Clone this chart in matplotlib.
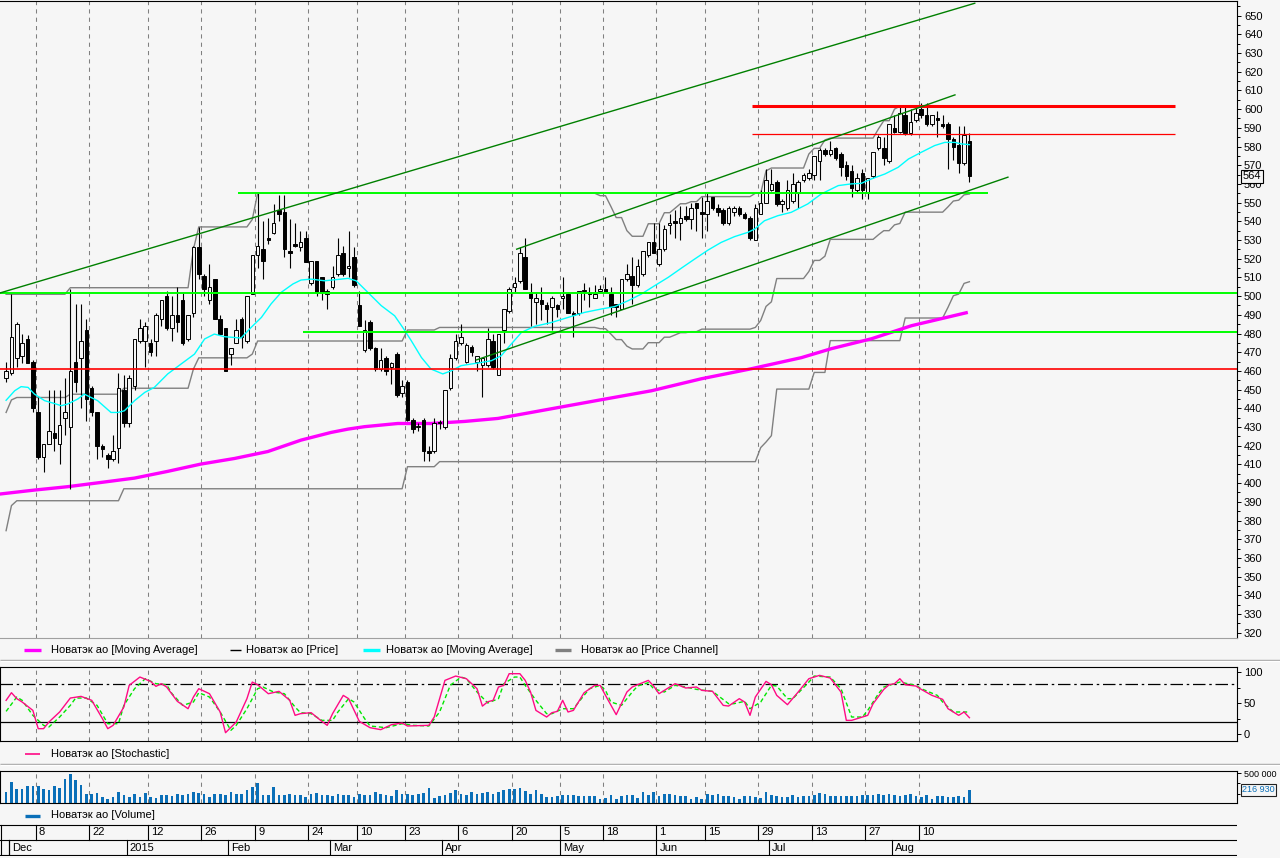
import numpy as np
import matplotlib
matplotlib.use("Agg")
import matplotlib.pyplot as plt
from matplotlib.lines import Line2D

# Novatek daily candles, 28 Nov 2014 .. 21 Aug 2015 (index = trading day)
opens = [456, 459, 467, 468, 477, 465, 438, 414, 421, 427,
         421, 435, 430, 465, 467, 482, 451, 438, 420, 415,
         413, 419, 450, 432, 452, 476, 476, 475, 476, 488,
         500, 483, 490, 498, 477, 491, 526, 511, 498, 509,
         488, 483, 469, 475, 488, 476, 501, 522, 525, 531,
         534, 546, 545, 524, 528, 526, 531, 507, 519, 510,
         501, 505, 512, 523, 515, 521, 495, 471, 486, 472,
         461, 467, 462, 469, 448, 454, 434, 430, 434, 417,
         417, 432, 430, 451, 467, 475, 465, 473, 465, 463,
         463, 476, 458, 482, 492, 505, 508, 521, 502, 497,
         498, 495, 494, 495, 499, 501, 491, 491, 503, 502,
         499, 503, 504, 501, 496, 493, 509, 511, 506, 512,
         522, 529, 517, 525, 538, 540, 539, 543, 541, 550,
         545, 544, 553, 547, 546, 539, 545, 547, 544, 542,
         530, 544, 550, 557, 561, 549, 547, 551, 555, 562,
         563, 565, 572, 578, 576, 579, 576, 570, 567, 557,
         566, 555, 564, 579, 579, 572, 590, 588, 597, 587,
         594, 600, 597, 592, 595, 592, 592, 584, 581, 571,
         583]
highs = [465, 501, 486, 480, 479, 466, 446, 421, 450, 450,
         450, 456, 504, 496, 496, 488, 452, 438, 421, 416,
         426, 459, 458, 458, 477, 488, 486, 477, 491, 498,
         503, 500, 505, 502, 490, 527, 537, 512, 517, 509,
         490, 483, 472, 488, 489, 500, 522, 555, 540, 542,
         549, 554, 554, 541, 539, 535, 535, 519, 519, 510,
         504, 516, 531, 527, 535, 526, 503, 487, 487, 473,
         472, 468, 465, 470, 455, 455, 435, 432, 435, 420,
         435, 434, 450, 469, 480, 485, 475, 474, 468, 467,
         483, 480, 480, 493, 505, 510, 526, 531, 507, 502,
         505, 497, 500, 496, 510, 502, 492, 503, 507, 505,
         506, 506, 510, 505, 496, 509, 517, 521, 520, 524,
         529, 539, 539, 538, 544, 546, 548, 548, 550, 550,
         553, 555, 553, 549, 547, 548, 548, 548, 545, 543,
         549, 557, 568, 568, 562, 552, 562, 566, 562, 566,
         568, 575, 579, 579, 583, 580, 577, 572, 570, 566,
         568, 563, 577, 586, 585, 592, 597, 602, 602, 600,
         602, 603, 603, 597, 599, 597, 593, 585, 591, 591,
         587]
lows = [454, 458, 462, 464, 464, 438, 413, 406, 421, 417,
        410, 426, 397, 449, 440, 433, 436, 413, 414, 408,
        412, 411, 430, 430, 450, 475, 462, 468, 468, 484,
        482, 476, 481, 474, 476, 489, 509, 500, 496, 488,
        479, 460, 463, 475, 472, 475, 501, 515, 509, 528,
        533, 540, 521, 515, 526, 524, 518, 506, 500, 498,
        493, 504, 511, 511, 510, 505, 484, 470, 471, 460,
        460, 458, 453, 446, 446, 433, 427, 428, 412, 412,
        416, 429, 429, 450, 466, 474, 464, 468, 460, 446,
        462, 461, 458, 475, 491, 502, 507, 504, 484, 485,
        487, 485, 482, 489, 493, 491, 478, 490, 498, 494,
        499, 502, 502, 490, 489, 493, 508, 496, 505, 511,
        521, 523, 516, 524, 533, 531, 530, 540, 536, 535,
        531, 535, 546, 543, 538, 538, 543, 543, 541, 530,
        530, 544, 550, 556, 548, 545, 546, 550, 547, 561,
        562, 562, 562, 575, 575, 573, 564, 562, 553, 555,
        552, 552, 563, 578, 570, 571, 587, 587, 586, 586,
        593, 595, 591, 591, 585, 590, 568, 573, 566, 570,
        561]
closes = [460, 478, 485, 475, 464, 440, 414, 421, 428, 424,
          431, 438, 460, 454, 476, 445, 438, 420, 418, 413,
          417, 451, 432, 456, 477, 483, 484, 470, 490, 498,
          483, 490, 486, 475, 490, 526, 512, 504, 505, 488,
          480, 460, 472, 482, 478, 500, 522, 527, 519, 530,
          539, 544, 525, 523, 527, 529, 518, 519, 502, 502,
          503, 510, 522, 512, 516, 506, 484, 482, 472, 461,
          466, 460, 464, 447, 452, 434, 429, 430, 417, 416,
          432, 432, 450, 467, 476, 478, 474, 470, 468, 467,
          477, 462, 480, 493, 504, 507, 523, 504, 499, 499,
          496, 493, 499, 493, 500, 491, 490, 503, 503, 501,
          501, 504, 502, 494, 494, 509, 512, 506, 516, 524,
          529, 523, 525, 536, 539, 539, 542, 541, 547, 547,
          544, 551, 547, 545, 539, 547, 547, 544, 542, 531,
          547, 550, 562, 560, 549, 551, 557, 560, 561, 565,
          566, 575, 578, 576, 578, 574, 569, 564, 558, 563,
          557, 563, 577, 585, 574, 592, 588, 598, 587, 593,
          598, 597, 592, 597, 594, 591, 584, 580, 571, 586,
          564]
# volume, thousands of shares
volumes = [183, 353, 229, 229, 285, 285, 285, 240, 212, 285, 251, 410, 495, 381, 297, 155, 155, 172, 99, 65,
           99, 178, 127, 99, 144, 99, 166, 99, 88, 127, 127, 116, 144, 133, 144, 178, 166, 155, 99, 155,
           155, 138, 178, 144, 155, 212, 268, 342, 127, 127, 268, 127, 127, 155, 127, 127, 99, 155, 166, 127,
           127, 110, 144, 127, 127, 99, 144, 127, 127, 178, 144, 127, 110, 212, 144, 144, 127, 155, 166, 257,
           81, 122, 127, 166, 212, 144, 133, 183, 155, 166, 183, 155, 183, 212, 240, 240, 251, 200, 144, 212,
           144, 99, 99, 110, 127, 138, 127, 116, 116, 116, 110, 71, 88, 127, 65, 110, 127, 127, 88, 183,
           127, 183, 116, 144, 144, 127, 116, 110, 71, 99, 71, 144, 127, 144, 110, 110, 99, 71, 110, 110,
           99, 88, 183, 127, 122, 99, 99, 127, 99, 110, 122, 127, 166, 144, 122, 116, 110, 110, 110, 110,
           127, 127, 127, 155, 127, 144, 127, 110, 127, 144, 110, 99, 127, 71, 110, 110, 99, 99, 110, 99,
           217]

# long moving average (magenta)
ma_long_idx = [-1.1, 5.3, 11.5, 17.8, 24.0, 30.2, 36.4, 42.7, 48.9, 55.1, 60.7, 63.9, 67.0, 73.2,
               79.4, 85.7, 91.9, 98.1, 111.2, 120.6, 129.9, 139.3, 148.6, 154.2, 161.7, 169.2, 179.4]
ma_long_val = [394.2, 396.3, 398.1, 400.4, 402.7, 406.3, 410.2, 413.2, 416.9, 423.0, 427.1, 428.9, 430.2, 431.9,
               431.9, 433.0, 434.6, 437.8, 444.6, 449.4, 455.8, 461.2, 467.1, 471.9, 477.2, 484.2, 491.1]

# short moving average (cyan)
ma_short_idx = [0, 1.6, 2.8, 4.1, 5.3, 7.2, 9.0, 10.3, 11.5, 13.4,
                14.6, 17.1, 19.6, 20.9, 22.1, 24.0, 25.9, 27.7, 30.2, 32.7,
                35.2, 37.1, 38.9, 40.8, 43.9, 45.8, 47.7, 49.5, 51.4, 53.6,
                55.1, 57.0, 59.5, 62.6, 63.9, 65.4, 67.6, 70.1, 72.6, 74.1,
                75.7, 77.6, 79.4, 81.6, 83.2, 85.0, 86.9, 88.8, 90.7, 92.5,
                94.4, 96.3, 98.7, 101.9, 105.0, 108.1, 111.2, 113.7, 116.2, 118.7,
                121.2, 123.7, 126.2, 128.7, 131.2, 133.6, 136.1, 138.6, 139.9, 141.7,
                144.2, 146.7, 149.8, 152.3, 155.5, 157.9, 159.8, 161.7, 164.2, 166.7,
                168.6, 171.0, 173.5, 175.4, 177.3, 178.5, 180.0]
ma_short_val = [444.3, 449.4, 451.6, 451.2, 447.6, 444.1, 442.6, 441.4, 442.3, 445.0,
                447.6, 444.1, 437.8, 437.8, 438.7, 444.1, 448.5, 451.2, 458.4, 463.7,
                469.0, 477.1, 479.7, 478.3, 477.6, 483.3, 488.6, 495.8, 502.0, 506.5,
                508.6, 509.1, 508.2, 509.1, 509.5, 508.2, 502.0, 494.9, 489.5, 483.3,
                476.2, 467.2, 461.0, 458.4, 460.1, 462.8, 463.7, 464.5, 465.5, 468.1,
                474.4, 480.6, 483.8, 485.9, 488.6, 491.3, 493.1, 494.4, 497.5, 501.1,
                505.6, 510.0, 515.0, 519.9, 524.7, 528.7, 531.8, 534.1, 535.9, 540.3,
                543.0, 544.8, 549.3, 554.6, 559.1, 560.0, 560.3, 562.7, 565.3, 568.9,
                573.3, 576.9, 580.5, 582.2, 582.2, 581.4, 581.0]

# price channel: upper / lower levels, each starting at a candle index
chan_upper_start = [0, 12, 35, 36, 46, 47, 111, 113, 114, 116, 117, 120, 123, 125,
                    126, 128, 130, 140, 142, 143, 150, 151, 153, 154, 163, 164, 166, 167]
chan_upper_level = [501, 504.5, 525, 537, 541, 555, 553.7, 548, 542, 535, 532, 538.7, 544.6, 547,
                    549.4, 550.5, 553.2, 555, 567, 568.5, 576, 579, 583.5, 584.5, 589.4, 593.8, 600, 601.5]
chan_lower_start = [0, 1, 2, 22, 75, 81, 141, 142, 143, 144, 151, 154, 168, 176, 177, 178, 179, 180]
chan_lower_level = [374.6, 388, 390.6, 397, 408.8, 411.5, 419, 422, 425.4, 450.3, 459.2, 476.2,
                    488.3, 494, 500.2, 501.1, 506.8, 507.7]

# stochastic %K (pink) and %D (green dashed)
stoch_k_idx = [0, 1, 2, 3, 5, 6, 7, 8, 10, 12, 14, 16, 18, 19, 20, 22, 23, 25, 27, 28,
               29, 30, 32, 34, 35, 36, 38, 40, 41, 43, 45, 46, 47, 49, 51, 53, 54, 55, 57, 59,
               60, 61, 63, 64, 66, 68, 70, 72, 74, 75, 79, 80, 82, 84, 86, 88, 89, 90, 91, 92,
               93, 94, 96, 97, 98, 99, 101, 102, 103, 104, 105, 106, 108, 110, 111, 112, 114, 116, 117, 118,
               120, 121, 122, 123, 125, 127, 129, 130, 132, 134, 135, 137, 138, 139, 140, 142, 143, 144, 146, 148,
               150, 152, 154, 156, 157, 158, 161, 162, 164, 165, 166, 167, 168, 170, 171, 173, 175, 176, 177, 178,
               179, 180]
stoch_k_val = [54.3, 66.6, 57.0, 51.6, 38.1, 8.6, 8.6, 19.3, 35.5, 58.0, 60.7, 54.3, 24.7, 8.6, 14.0, 43.5, 78.5, 91.9, 84.9, 76.9,
               81.2, 75.8, 52.7, 40.8, 59.7, 73.1, 65.0, 35.5, 2.1, 19.3, 57.0, 83.8, 79.5, 65.0, 68.8, 54.3, 30.1, 32.8, 34.4, 20.4,
               14.0, 32.8, 62.3, 57.0, 20.4, 10.2, 7.0, 15.0, 17.7, 12.9, 14.0, 27.4, 86.5, 93.5, 89.2, 73.1, 45.0, 52.0, 54.3, 75.8,
               78.5, 97.3, 97.3, 86.5, 67.7, 38.1, 27.4, 34.4, 36.5, 54.3, 35.5, 38.1, 66.6, 78.5, 78.5, 62.3, 31.2, 67.7, 75.8, 79.5,
               86.5, 77.4, 65.0, 70.4, 81.2, 74.2, 75.8, 70.4, 68.8, 46.2, 45.1, 57.0, 51.6, 30.1, 59.7, 84.9, 79.5, 62.3, 47.3, 67.7,
               89.2, 94.6, 90.3, 67.7, 22.0, 22.0, 30.1, 48.9, 72.0, 79.5, 81.2, 89.2, 79.5, 77.4, 72.0, 62.3, 55.9, 40.8, 35.5, 30.1,
               35.5, 26.3]
stoch_d_idx = [0, 2, 3, 5, 7, 8, 10, 12, 13, 15, 17, 19, 21, 22, 24, 26, 28, 30, 31, 33,
               35, 36, 38, 40, 42, 43, 45, 47, 48, 50, 52, 54, 55, 57, 59, 61, 62, 64, 65, 67,
               68, 71, 74, 76, 79, 81, 83, 85, 86, 88, 90, 92, 93, 95, 96, 97, 99, 101, 102, 104,
               106, 107, 109, 111, 112, 113, 115, 117, 118, 120, 121, 123, 125, 127, 129, 132, 135, 136, 138, 139,
               141, 143, 144, 146, 147, 150, 151, 154, 156, 158, 160, 161, 163, 164, 167, 170, 171, 174, 175, 177,
               178, 180]
stoch_d_val = [36.5, 59.7, 54.3, 30.1, 14.0, 11.3, 27.4, 46.2, 58.0, 58.0, 46.2, 16.6, 16.6, 46.2, 73.1, 89.2, 81.2, 79.5, 65.0, 46.2,
               51.6, 66.6, 59.7, 35.5, 5.9, 14.0, 40.8, 73.1, 75.8, 67.7, 65.0, 43.5, 34.4, 32.8, 22.0, 22.0, 35.5, 57.0, 51.6, 24.7,
               12.9, 10.2, 16.6, 14.0, 12.9, 35.5, 78.5, 91.9, 89.2, 67.7, 50.0, 57.0, 81.2, 91.9, 91.9, 78.5, 54.3, 32.8, 32.8, 40.8,
               40.8, 51.6, 73.1, 78.5, 70.4, 51.6, 46.2, 67.7, 77.4, 82.8, 73.1, 67.7, 78.5, 75.8, 72.0, 68.8, 48.9, 48.9, 52.7, 40.8,
               51.6, 78.5, 77.4, 57.0, 57.0, 83.8, 93.5, 91.9, 73.1, 27.4, 27.4, 38.1, 65.0, 75.8, 83.8, 78.5, 73.1, 62.3, 51.6, 35.5,
               35.5, 35.5]

# hand-drawn levels: price, first and last candle index
level_price = [501.5, 555.2, 481.0, 461.0, 601.5, 586.7]
level_from = [-1.14, 43.3, 55.5, -1.14, 139.4, 139.4]
level_to = [230.0, 183.5, 230.0, 230.0, 218.4, 218.4]
# trend lines (dark green)
trend_i0 = [-1.14, 95.4, 87.9]
trend_p0 = [501.7, 525.1, 465.9]
trend_i1 = [181.0, 177.3, 187.2]
trend_p1 = [656.6, 607.6, 563.6]

# date scale
day_labels = ['8', '22', '12', '26', '9', '24', '10', '23', '6', '20', '5', '18',
              '1', '15', '29', '13', '27', '10']
day_idx = [6, 16, 27, 37, 47, 57, 66, 75, 85, 95, 104, 112, 122, 131, 141, 151, 161, 171]
month_labels = ['Dec', '2015', 'Feb', 'Mar', 'Apr', 'May', 'Jun', 'Jul', 'Aug']
month_idx = [1, 23, 42, 61, 82, 104, 122, 143, 166]

plt.rcParams['font.family'] = ['Liberation Sans', 'DejaVu Sans']
plt.rcParams['font.size'] = 8

BG = '#f6f6f6'
VOL_BLUE = '#0a6fb8'
X_LEFT, X_RIGHT = -1.14, 230.0

opens = np.array(opens, float)
highs = np.array(highs, float)
lows = np.array(lows, float)
closes = np.array(closes, float)
n = len(closes)
idx = np.arange(n)

upper = np.repeat(chan_upper_level, np.diff(chan_upper_start + [n]))
lower = np.repeat(chan_lower_level, np.diff(chan_lower_start + [n]))
middle = (upper + lower) / 2

fig = plt.figure(figsize=(12.8, 8.58), dpi=100, facecolor=BG)


def px_box(left, top, right, bottom):
    return [left / 1280, 1 - bottom / 858, (right - left) / 1280, (bottom - top) / 858]


ax = fig.add_axes(px_box(0, 1, 1237, 638))
ax_st = fig.add_axes(px_box(0, 667, 1237, 741))
ax_vol = fig.add_axes(px_box(0, 771, 1237, 803))
ax_dt = fig.add_axes(px_box(0, 824, 1237, 856))

grid_x = np.array(day_idx) - 0.5
for a in (ax, ax_st, ax_vol):
    a.set_facecolor(BG)
    a.set_xlim(X_LEFT, X_RIGHT)
    a.set_xticks([])
    a.yaxis.tick_right()
    for gx in grid_x:
        a.axvline(gx, color='#808080', lw=0.75, ls=(0, (4, 4)), zorder=0.5)
    a.tick_params(axis='y', which='major', length=3, width=0.7, pad=2, labelsize=8)
    a.tick_params(axis='y', which='minor', length=1.8, width=0.7)

# --- price panel ---
ax.set_ylim(317.2, 657.8)
ax.set_yticks(np.arange(320, 651, 10))
ax.set_yticks(np.arange(325, 656, 10), minor=True)
ax.spines['left'].set_visible(False)
ax.spines['bottom'].set_color('#a0a0a0')

ax.plot(idx, upper, color='#808080', lw=1, zorder=2)
ax.plot(idx, lower, color='#808080', lw=1, zorder=2)
ax.plot(idx, middle, color='#808080', lw=1, zorder=2)

ax.plot(ma_long_idx, ma_long_val, color='#ff00ff', lw=2.4, zorder=2.5)

# candles: hollow when the close is above the open, black otherwise
up = closes >= opens
body_lo = np.minimum(opens, closes)
body_h = np.maximum(np.abs(closes - opens), 0.5)
ax.vlines(idx, lows, highs, color='black', lw=0.8, zorder=3)
ax.bar(idx, body_h, bottom=body_lo, width=0.66, color=np.where(up, BG, 'black'),
       edgecolor='black', linewidth=0.7, zorder=3.5)

ax.plot(ma_short_idx, ma_short_val, color='#00ffff', lw=1, zorder=4)

level_colors = ['#00ff00', '#00ff00', '#00ff00', '#ff0000', '#ff0000', '#ff0000']
level_widths = [1.4, 1.4, 1.4, 1.2, 2.2, 0.9]
for p, a0, a1, c, w in zip(level_price, level_from, level_to, level_colors, level_widths):
    ax.plot([a0, a1], [p, p], color=c, lw=w, zorder=5, solid_capstyle='butt')
for a0, p0, a1, p1 in zip(trend_i0, trend_p0, trend_i1, trend_p1):
    ax.plot([a0, a1], [p0, p1], color='#008000', lw=1, zorder=5)

ax.text(1.0 + 6 / 1237, closes[-1], '%d' % closes[-1], transform=ax.get_yaxis_transform(),
        ha='left', va='center', fontsize=8,
        bbox=dict(boxstyle='square,pad=0.15', fc=BG, ec='black', lw=0.8))

# --- stochastic panel ---
ax_st.set_ylim(-11.3, 108.1)
ax_st.set_yticks([0, 50, 100])
ax_st.set_yticks([25, 75], minor=True)
ax_st.axhline(80, color='black', lw=0.9, ls=(0, (10, 3, 2, 3)))
ax_st.axhline(20, color='black', lw=0.9)
ax_st.plot(stoch_d_idx, stoch_d_val, color='#00e600', lw=1, ls=(0, (3, 2)))
ax_st.plot(stoch_k_idx, stoch_k_val, color='#ff0a84', lw=1)

# --- volume panel ---
vol = np.array(volumes) * 1000
ax_vol.set_ylim(-5000, 539000)
ax_vol.bar(idx, vol, width=0.5, color=VOL_BLUE)
ax_vol.set_yticks([500000])
ax_vol.set_yticklabels(['500 000'], fontsize=6.5)
ax_vol.set_yticks([340000, 140000], minor=True)
ax_vol.text(1.0 + 5 / 1237, vol[-1], '216 930', transform=ax_vol.get_yaxis_transform(),
            ha='left', va='center', fontsize=6.5, color=VOL_BLUE,
            bbox=dict(boxstyle='square,pad=0.12', fc=BG, ec='#202020', lw=0.8))

# --- date scale ---
ax_dt.set_xlim(X_LEFT, X_RIGHT)
ax_dt.set_ylim(0, 1)
ax_dt.axis('off')
for yy in (0.97, 0.5, 0.03):
    ax_dt.plot([X_LEFT, X_RIGHT], [yy, yy], color='black', lw=0.8)
ax_dt.plot([X_LEFT + 0.1, X_LEFT + 0.1], [0.03, 0.97], color='black', lw=0.8)
for lab, d in zip(day_labels, day_idx):
    ax_dt.plot([d - 0.5, d - 0.5], [0.5, 0.97], color='black', lw=0.8)
    ax_dt.text(d - 0.5 + 0.6, 0.735, lab, va='center', ha='left', fontsize=8)
ax_dt.plot([0.5, 0.5], [0.03, 0.5], color='black', lw=0.8)
for lab, m in zip(month_labels, month_idx):
    ax_dt.plot([m - 0.5, m - 0.5], [0.03, 0.5], color='black', lw=0.8)
    ax_dt.text(m - 0.5 + 0.6, 0.265, lab, va='center', ha='left', fontsize=8)


# --- legends and separators ---
def fig_line(x0, x1, y, color, lw):
    fig.add_artist(Line2D([x0 / 1280, x1 / 1280], [1 - y / 858, 1 - y / 858],
                          color=color, lw=lw, solid_capstyle='butt'))


def fig_label(x, y, s):
    fig.text(x / 1280, 1 - y / 858, s, ha='left', va='center', fontsize=8)


fig_line(0, 1280, 659.5, '#a0a0a0', 1)
fig_line(0, 1280, 660.5, 'white', 1)
fig_line(0, 1280, 763.5, '#a0a0a0', 1)
fig_line(0, 1280, 764.5, 'white', 1)

fig_line(24, 41, 650, '#ff00ff', 2.4)
fig_label(51, 650, 'Новатэк ао [Moving Average]')
fig_line(230, 241, 650, 'black', 1)
fig_label(246, 650, 'Новатэк ао [Price]')
fig_line(363, 380, 650, '#00ffff', 2.4)
fig_label(386, 650, 'Новатэк ао [Moving Average]')
fig_line(555, 571, 650, '#808080', 2.4)
fig_label(581, 650, 'Новатэк ао [Price Channel]')

fig_line(25, 40, 754, '#ff0a84', 1.2)
fig_label(51, 754, 'Новатэк ао [Stochastic]')
fig_line(25, 40, 815.5, VOL_BLUE, 2.4)
fig_label(51, 815.5, 'Новатэк ао [Volume]')

fig.savefig('out.png', dpi=100, facecolor=BG)
